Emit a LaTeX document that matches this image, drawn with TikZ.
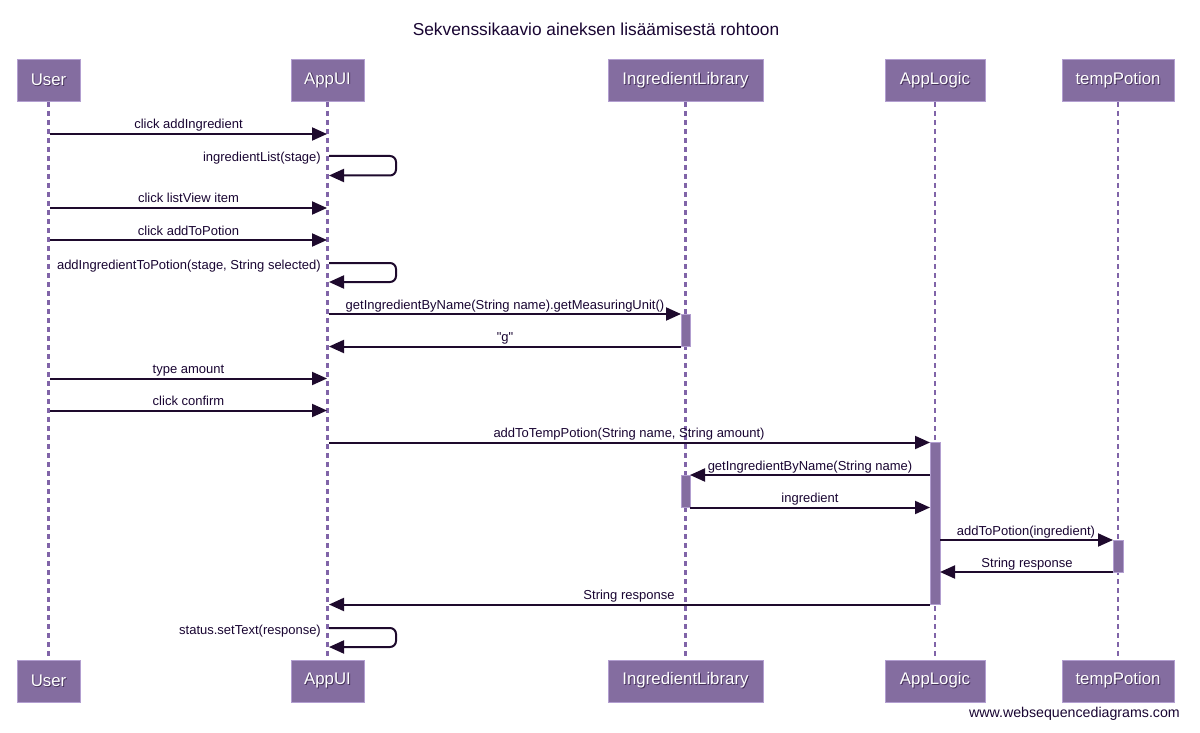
\documentclass[tikz,border=0pt]{standalone}
\usepackage{fontspec}
\setmainfont{Liberation Sans}
\newfontfamily\plainfont{Liberation Sans}
\usetikzlibrary{arrows.meta}
\definecolor{boxfill}{RGB}{132,109,160}
\definecolor{boxline}{RGB}{178,158,208}
\definecolor{lifeln}{RGB}{128,100,168}
\definecolor{msgln}{RGB}{30,10,45}
\definecolor{txt}{RGB}{25,5,50}
\definecolor{shadowc}{RGB}{70,50,90}
\newcommand{\shtext}[1]{\leavevmode\rlap{\kern0.9pt\raisebox{-0.9pt}{\color{shadowc}#1}}#1}
\begin{document}
\begin{tikzpicture}[x=1pt,y=-1pt,
  part/.style={draw=boxline, line width=1pt, fill=boxfill, minimum height=42pt, text=white,
               font=\fontsize{16.8}{18}\selectfont, inner sep=0pt},
  life/.style={draw=lifeln, line width=2.5pt, dash pattern=on 5pt off 4pt},
  msg/.style={draw=msgln, line width=2pt, -{Triangle[length=15pt,width=13pt]}},
  selfmsg/.style={msg, rounded corners=6pt},
  lbl/.style={text=txt, font=\fontsize{13}{15}\selectfont, inner sep=0pt, anchor=base},
  slbl/.style={lbl, anchor=base east},
  act/.style={draw=boxline, line width=0.8pt, fill=boxfill, inner sep=0pt, outer sep=0pt, anchor=north}]

\useasboundingbox (0,0) rectangle (1200,733);
\fill[white] (0,0) rectangle (1200,733);

% title
\node[text=txt, font=\fontsize{17.3}{19}\selectfont, inner sep=0pt, anchor=base] (title) at (596,36) {Sekvenssikaavio aineksen lisäämisestä rohtoon};

% participants
\foreach \n/\x/\w/\t in {u/48.5/63/User, a/327.5/73/AppUI, il/685.5/155/IngredientLibrary, al/935/100/AppLogic, tp/1118/112/tempPotion}{
  \node[part, minimum width=\w pt] (\n T) at (\x,80.5) {\shtext{\t}};
  \node[part, minimum width=\w pt] (\n B) at (\x,681) {\shtext{\t}};
  \draw[life] (\n T.south) -- (\n B.north);
}

% activation bars
\node[act, minimum width=9pt, minimum height=32.5pt] (ilA1) at (685.5,314) {};
\node[act, minimum width=9pt, minimum height=32.5pt] (ilA2) at (685.5,475) {};
\node[act, minimum width=10pt, minimum height=162pt] (alA) at (935,442.5) {};
\node[act, minimum width=10pt, minimum height=32pt] (tpA) at (1118,540) {};

% message end points
\coordinate (m1s) at (50,134);   \coordinate (m1e) at (327,134);
\coordinate (m2s) at (329,156);  \coordinate (m2e) at (329,175.5);
\coordinate (m3s) at (50,208);   \coordinate (m3e) at (327,208);
\coordinate (m4s) at (50,240);   \coordinate (m4e) at (327,240);
\coordinate (m5s) at (329,263);  \coordinate (m5e) at (329,282);
\coordinate (m6s) at (329,314);  \coordinate (m6e) at (ilA1.north west);
\coordinate (m7s) at (ilA1.south west); \coordinate (m7e) at (329,346.5);
\coordinate (m8s) at (50,378.5); \coordinate (m8e) at (327,378.5);
\coordinate (m9s) at (50,410.5); \coordinate (m9e) at (327,410.5);
\coordinate (m10s) at (329,442.5); \coordinate (m10e) at (alA.north west);
\coordinate (m11s) at (930,475); \coordinate (m11e) at (ilA2.north east);
\coordinate (m12s) at (ilA2.south east); \coordinate (m12e) at (930,507.5);
\coordinate (m13s) at (940,540); \coordinate (m13e) at (tpA.north west);
\coordinate (m14s) at (tpA.south west); \coordinate (m14e) at (940,572);
\coordinate (m15s) at (alA.south west); \coordinate (m15e) at (329,604.5);
\coordinate (m16s) at (329,628); \coordinate (m16e) at (329,647);

% messages
\draw[msg] (m1s) -- (m1e);
\node[lbl] (l1) at (188.5,129) {click addIngredient};
\draw[selfmsg] (m2s) -- ++(67,0) |- (m2e);
\node[slbl] (l2) at (321,162) {ingredientList(stage)};
\draw[msg] (m3s) -- (m3e);
\node[lbl] (l3) at (188.5,203) {click listView item};
\draw[msg] (m4s) -- (m4e);
\node[lbl] (l4) at (188.5,235) {click addToPotion};
\draw[selfmsg] (m5s) -- ++(67,0) |- (m5e);
\node[slbl] (l5) at (321,269) {addIngredientToPotion(stage, String selected)};
\draw[msg] (m6s) -- (m6e);
\node[lbl] (l6) at (505,309.5) {getIngredientByName(String name).getMeasuringUnit()};
\draw[msg] (m7s) -- (m7e);
\node[lbl] (l7) at (505,341.5) {\plainfont "g"};
\draw[msg] (m8s) -- (m8e);
\node[lbl] (l8) at (188.5,373.5) {type amount};
\draw[msg] (m9s) -- (m9e);
\node[lbl] (l9) at (188.5,405.5) {click confirm};
\draw[msg] (m10s) -- (m10e);
\node[lbl] (l10) at (629,437.5) {addToTempPotion(String name, String amount)};
\draw[msg] (m11s) -- (m11e);
\node[lbl] (l11) at (810,470) {getIngredientByName(String name)};
\draw[msg] (m12s) -- (m12e);
\node[lbl] (l12) at (810,502.5) {ingredient};
\draw[msg] (m13s) -- (m13e);
\node[lbl] (l13) at (1026,535) {addToPotion(ingredient)};
\draw[msg] (m14s) -- (m14e);
\node[lbl] (l14) at (1027,567) {String response};
\draw[msg] (m15s) -- (m15e);
\node[lbl] (l15) at (629,599.5) {String response};
\draw[selfmsg] (m16s) -- ++(67,0) |- (m16e);
\node[slbl] (l16) at (321,634) {status.setText(response)};

% watermark
\node[text=txt, font=\fontsize{14.2}{16}\selectfont, inner sep=0pt, anchor=base east] (wm) at (1180,717) {www.websequencediagrams.com};
\end{tikzpicture}
\end{document}
